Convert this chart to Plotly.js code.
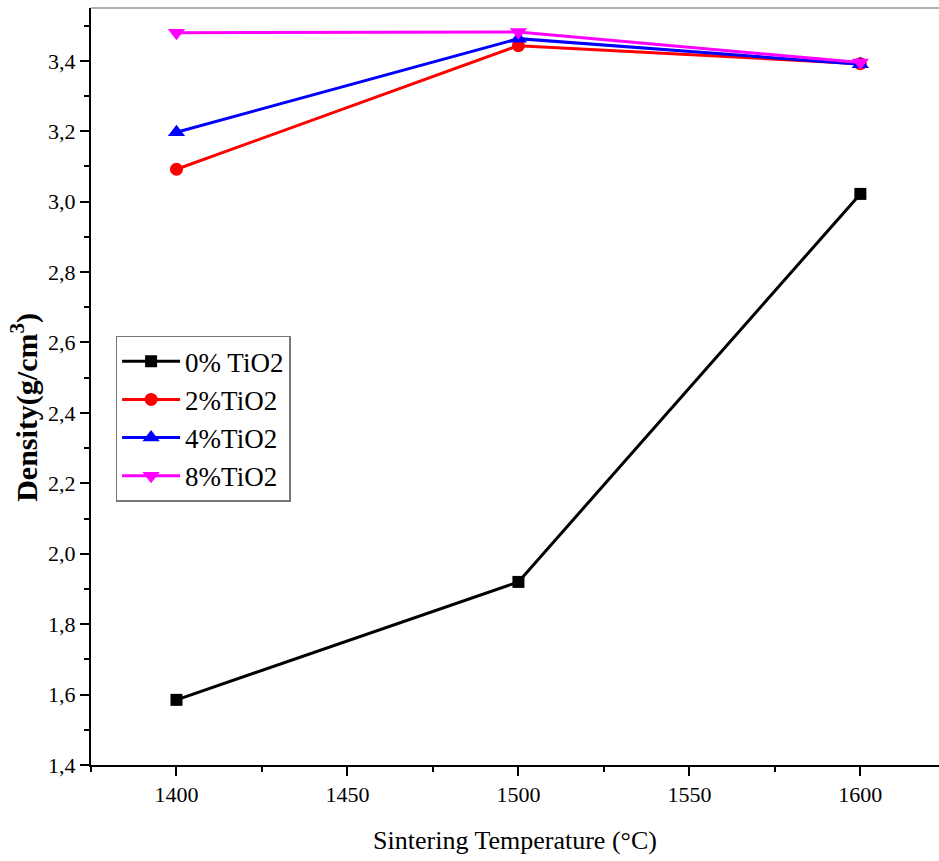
<!DOCTYPE html>
<html>
<head>
<meta charset="utf-8">
<script src="https://cdn.plot.ly/plotly-3.0.1.min.js"></script>
<style>html,body{margin:0;padding:0;background:#fff;}#chart{width:939px;height:861px;}</style>
</head>
<body>
<div id="chart"></div>
<script>
const temperatures = [1400, 1500, 1600];
const density0 = [1.585, 1.92, 3.022];
const density2 = [3.092, 3.443, 3.392];
const density4 = [3.197, 3.463, 3.39];
const density8 = [3.48, 3.482, 3.395];
const seriesNames = ['0% TiO2', '2%TiO2', '4%TiO2', '8%TiO2'];
const xTitle = 'Sintering Temperature (°C)';
const yTitle = '<b>Density(g/cm<sup>3</sup>)</b>';

const font = "Liberation Serif";
const mk = (y, name, color, symbol, size) => ({
  x: temperatures, y: y, name: name, type: 'scatter', mode: 'lines+markers',
  line: {color: color, width: 3},
  marker: {color: color, symbol: symbol, size: size}
});
const data = [
  mk(density0, seriesNames[0], '#000000', 'square', 12),
  mk(density2, seriesNames[1], '#ff0000', 'circle', 13),
  mk(density4, seriesNames[2], '#0000ff', 'triangle-up', 15),
  mk(density8, seriesNames[3], '#ff00ff', 'triangle-down', 15)
];
const layout = {
  width: 939, height: 861,
  margin: {l: 91, r: 0, t: 8, b: 96},
  paper_bgcolor: '#fff', plot_bgcolor: '#fff',
  separators: ', ',
  font: {family: font, size: 22, color: '#000'},
  showlegend: true,
  legend: {x: 0.029, y: 0.567, xanchor: 'left', yanchor: 'top',
    bordercolor: '#777', borderwidth: 1.5, bgcolor: '#fff',
    font: {family: font, size: 27, color: '#000'}, itemwidth: 58, tracegroupgap: 0},
  xaxis: {
    range: [1375, 1623], showgrid: false, zeroline: false,
    showline: true, linecolor: '#000', linewidth: 2,
    ticks: 'outside', ticklen: 9, tickwidth: 2, tickcolor: '#000',
    tick0: 1400, dtick: 50,
    minor: {ticks: 'outside', ticklen: 5, tickwidth: 2, tickcolor: '#000', dtick: 25},
    tickfont: {family: font, size: 22},
    title: {text: xTitle, font: {family: font, size: 26}, standoff: 24}
  },
  yaxis: {
    range: [1.4, 3.55], showgrid: false, zeroline: false,
    showline: true, linecolor: '#000', linewidth: 2,
    ticks: 'outside', ticklen: 9, tickwidth: 2, tickcolor: '#000',
    tick0: 1.4, dtick: 0.2, tickformat: '.1f',
    minor: {ticks: 'outside', ticklen: 5, tickwidth: 2, tickcolor: '#000', dtick: 0.1},
    tickfont: {family: font, size: 22}
  },
  annotations: [{text: yTitle, xref: 'paper', yref: 'paper', x: -0.078, y: 0.473,
    xanchor: 'center', yanchor: 'middle', textangle: -90, showarrow: false,
    font: {family: font, size: 30, color: '#000'}}],
  shapes: [{type: 'line', xref: 'paper', yref: 'paper', x0: 0, x1: 1, y0: 1, y1: 1,
    line: {color: '#999', width: 1.5}}]
};
Plotly.newPlot('chart', data, layout, {displayModeBar: false});
</script>
</body>
</html>
